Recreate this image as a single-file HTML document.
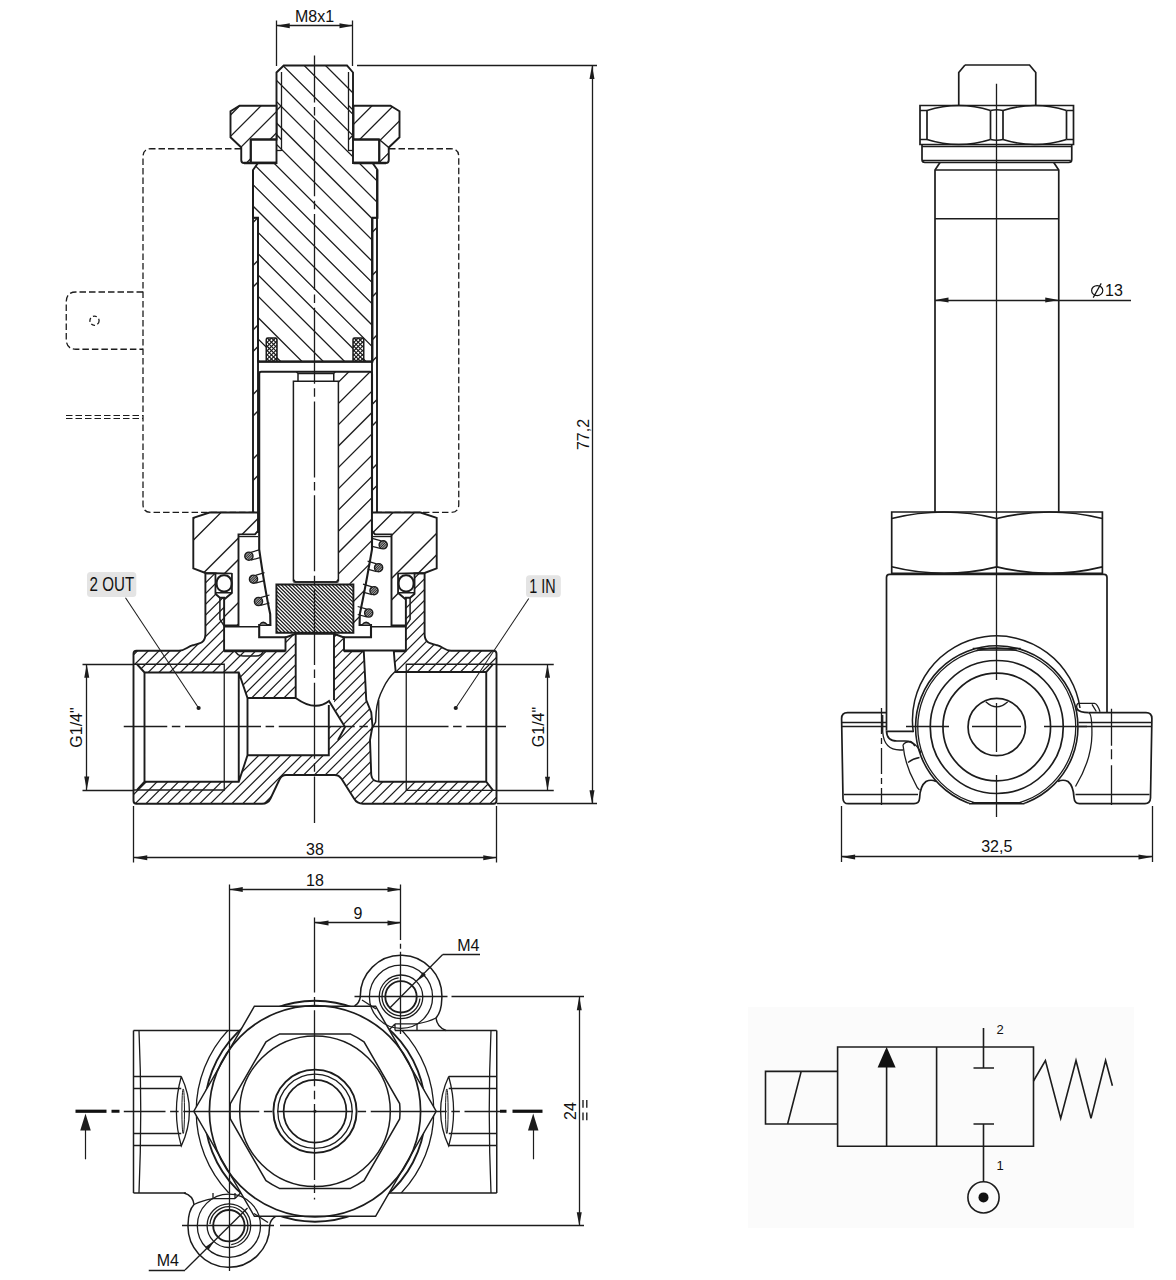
<!DOCTYPE html>
<html><head><meta charset="utf-8"><title>Valve drawing</title>
<style>
html,body{margin:0;padding:0;background:#fff;}
body{width:1176px;height:1280px;overflow:hidden;font-family:"Liberation Sans",sans-serif;}
svg{display:block;font-family:"Liberation Sans",sans-serif;}
</style></head><body>
<svg width="1176" height="1280" viewBox="0 0 1176 1280">
<defs>
<clipPath id="c1"><path d="M283.75,65.5 L347,65.5 L353,72.5 L353,163 L372.5,163 L377.5,170 L377.5,217.8 L372.5,217.8 L372.5,361.5 L258,361.5 L258,217.8 L253,217.8 L253,170 L258,163 L276.5,163 L276.5,72.5 Z" clip-rule="nonzero"/></clipPath>
<clipPath id="c2"><path d="M266.25,338 h10.75 v23 h-10.75 Z" clip-rule="nonzero"/></clipPath>
<clipPath id="c3"><path d="M266.25,338 h10.75 v23 h-10.75 Z" clip-rule="nonzero"/></clipPath>
<clipPath id="c4"><path d="M353.0,338 h10.75 v23 h-10.75 Z" clip-rule="nonzero"/></clipPath>
<clipPath id="c5"><path d="M353.0,338 h10.75 v23 h-10.75 Z" clip-rule="nonzero"/></clipPath>
<clipPath id="c6"><path d="M230.5,111.25 L239.5,105.75 L276.5,105.75 L276.5,139.5 L250.75,139.5 L250.75,163 L244,163 Q241.25,163 241.25,160 L241.25,147.5 L230.5,137.3 Z" clip-rule="nonzero"/></clipPath>
<clipPath id="c7"><path d="M399.5,111.25 L390.5,105.75 L353.5,105.75 L353.5,139.5 L379.25,139.5 L379.25,163 L386.0,163 Q388.75,163 388.75,160 L388.75,147.5 L399.5,137.3 Z" clip-rule="nonzero"/></clipPath>
<clipPath id="c8"><path d="M253,217.8 L258,217.8 L258,512.5 L253,512.5 Z" clip-rule="nonzero"/></clipPath>
<clipPath id="c9"><path d="M253,217.8 L258,217.8 L258,512.5 L253,512.5 Z" clip-rule="nonzero"/></clipPath>
<clipPath id="c10"><path d="M377.0,217.8 L372.0,217.8 L372.0,512.5 L377.0,512.5 Z" clip-rule="nonzero"/></clipPath>
<clipPath id="c11"><path d="M377.0,217.8 L372.0,217.8 L372.0,512.5 L377.0,512.5 Z" clip-rule="nonzero"/></clipPath>
<clipPath id="c12"><path d="M333.75,371.8 L370,371.8 Q372,371.8 372,373.8 L372,549.4 Q365,590 359.8,614 L359.6,625 L353.5,625 L353.5,584.5 L338.4,581.5 L338.4,381.25 L333.75,381.25 Z" clip-rule="nonzero"/></clipPath>
<clipPath id="c13"><path d="M276.4,584.5 L353.4,584.5 L353.4,632.7 L276.4,632.7 Z" clip-rule="nonzero"/></clipPath>
<clipPath id="c14"><path d="M244.8,556.2 a4.1,4.1 0 1 0 8.2,0 a4.1,4.1 0 1 0 -8.2,0 Z" clip-rule="nonzero"/></clipPath>
<clipPath id="c15"><path d="M249.4,579.2 a4.1,4.1 0 1 0 8.2,0 a4.1,4.1 0 1 0 -8.2,0 Z" clip-rule="nonzero"/></clipPath>
<clipPath id="c16"><path d="M254.4,601.5 a4.1,4.1 0 1 0 8.2,0 a4.1,4.1 0 1 0 -8.2,0 Z" clip-rule="nonzero"/></clipPath>
<clipPath id="c17"><path d="M379.09999999999997,544.8 a4.1,4.1 0 1 0 8.2,0 a4.1,4.1 0 1 0 -8.2,0 Z" clip-rule="nonzero"/></clipPath>
<clipPath id="c18"><path d="M374.5,567.7 a4.1,4.1 0 1 0 8.2,0 a4.1,4.1 0 1 0 -8.2,0 Z" clip-rule="nonzero"/></clipPath>
<clipPath id="c19"><path d="M369.9,590.7 a4.1,4.1 0 1 0 8.2,0 a4.1,4.1 0 1 0 -8.2,0 Z" clip-rule="nonzero"/></clipPath>
<clipPath id="c20"><path d="M364.59999999999997,613 a4.1,4.1 0 1 0 8.2,0 a4.1,4.1 0 1 0 -8.2,0 Z" clip-rule="nonzero"/></clipPath>
<clipPath id="c21"><path d="M193.3,517.9 L209.5,512.5 L258,512.5 L258,531 L255,534.4 L238.5,534.4 L238.5,625.5 L224.1,625.5 L224.1,599.5 L231.8,593 L231.8,574 L205.4,573 L193.3,568.4 Z" clip-rule="nonzero"/></clipPath>
<clipPath id="c22"><path d="M193.3,517.9 L209.5,512.5 L258,512.5 L258,531 L255,534.4 L238.5,534.4 L238.5,625.5 L224.1,625.5 L224.1,599.5 L231.8,593 L231.8,574 L205.4,573 L193.3,568.4 Z" clip-rule="nonzero"/></clipPath>
<clipPath id="c23"><path d="M436.7,517.9 L420.5,512.5 L372.0,512.5 L372.0,531 L375.0,534.4 L391.5,534.4 L391.5,625.5 L405.9,625.5 L405.9,599.5 L398.2,593 L398.2,574 L424.6,573 L436.7,568.4 Z" clip-rule="nonzero"/></clipPath>
<clipPath id="c24"><path d="M436.7,517.9 L420.5,512.5 L372.0,512.5 L372.0,531 L375.0,534.4 L391.5,534.4 L391.5,625.5 L405.9,625.5 L405.9,599.5 L398.2,593 L398.2,574 L424.6,573 L436.7,568.4 Z" clip-rule="nonzero"/></clipPath>
<clipPath id="c25"><path d="M133.5,653.75 Q133.5,650.75 136.5,650.75 L179,650.75 C185,650.5 187,647 193,645.2 C200,643.6 205.4,643 205.4,634 L205.4,573.4 L215.6,573.4 L215.6,594 L219.9,597.8 L224.1,597.8 L224.1,650.5 L285.5,650.5 L285.5,637.5 L295.7,633.8 L334,633.8 L344,637.5 L344,650.5 L405.9,650.5 L405.9,597.8 L410.1,597.8 L414.4,594 L414.4,573.4 L424.6,573.4 L424.6,634 C424.6,643 430,643.6 437,645.2 C443,647 445,650.5 451,650.75 L493.5,650.75 Q496.5,650.75 496.5,653.75 L496.5,800.75 Q496.5,803.75 493.5,803.75 L363,803.75 Q357,803.75 354,798.5 L341.5,778.8 Q339,775 334.5,775 L286,775 Q281.5,775 279.5,779.5 L270.5,798.5 Q268,803.75 262,803.75 L136.5,803.75 Q133.5,803.75 133.5,800.75 Z" clip-rule="nonzero"/></clipPath>
</defs>
<rect x="0" y="0" width="1176" height="1280" fill="#fff"/>
<path d="M241,148.75 L151.0,148.75 Q143.0,148.75 143.0,156.75 L143.0,504.4 Q143.0,512.4 151.0,512.4 L267,512.4" fill="none" stroke="#1c1c1c" stroke-width="1.3" stroke-dasharray="6.5 3"/>
<path d="M389,148.75 L450.75,148.75 Q458.75,148.75 458.75,156.75 L458.75,504.4 Q458.75,512.4 450.75,512.4 L362,512.4" fill="none" stroke="#1c1c1c" stroke-width="1.3" stroke-dasharray="6.5 3"/>
<path d="M143,292 L76,292 Q66.25,292 66.25,302 L66.25,339.25 Q66.25,349.25 76,349.25 L143,349.25" fill="none" stroke="#1c1c1c" stroke-width="1.3" stroke-dasharray="6.5 3"/>
<circle cx="94.5" cy="320.75" r="4.6" fill="none" stroke="#1c1c1c" stroke-width="1.3" stroke-dasharray="4 2.5"/>
<line x1="66" y1="415.5" x2="143" y2="415.5" stroke="#1c1c1c" stroke-width="1.2" stroke-dasharray="6.5 3"/>
<line x1="66" y1="418.5" x2="143" y2="418.5" stroke="#1c1c1c" stroke-width="1.2" stroke-dasharray="6.5 3"/>
<path d="M-63.40,60L241.60,365M-42.10,60L262.90,365M-20.80,60L284.20,365M0.50,60L305.50,365M21.80,60L326.80,365M43.10,60L348.10,365M64.40,60L369.40,365M85.70,60L390.70,365M107.00,60L412.00,365M128.30,60L433.30,365M149.60,60L454.60,365M170.90,60L475.90,365M192.20,60L497.20,365M213.50,60L518.50,365M234.80,60L539.80,365M256.10,60L561.10,365M277.40,60L582.40,365M298.70,60L603.70,365M320.00,60L625.00,365M341.30,60L646.30,365M362.60,60L667.60,365M383.90,60L688.90,365" clip-path="url(#c1)" fill="none" stroke="#1c1c1c" stroke-width="1.3"/>
<rect x="266.25" y="338" width="10.75" height="23" fill="#fff"/>
<path d="M263.05,338L240.05,361M267.25,338L244.25,361M271.45,338L248.45,361M275.65,338L252.65,361M279.85,338L256.85,361M284.05,338L261.05,361M288.25,338L265.25,361M292.45,338L269.45,361M296.65,338L273.65,361M300.85,338L277.85,361" clip-path="url(#c2)" fill="none" stroke="#1c1c1c" stroke-width="1.15"/>
<path d="M242.05,338L265.05,361M246.25,338L269.25,361M250.45,338L273.45,361M254.65,338L277.65,361M258.85,338L281.85,361M263.05,338L286.05,361M267.25,338L290.25,361M271.45,338L294.45,361M275.65,338L298.65,361M279.85,338L302.85,361" clip-path="url(#c3)" fill="none" stroke="#1c1c1c" stroke-width="1.15"/>
<path d="M266.25,361 L266.25,339.5 Q266.25,338 267.75,338 L275.5,338 Q277.0,338 277.0,339.5 L277.0,361" fill="none" stroke="#1c1c1c" stroke-width="1.5" />
<rect x="353.0" y="338" width="10.75" height="23" fill="#fff"/>
<path d="M349.80,338L326.80,361M354.00,338L331.00,361M358.20,338L335.20,361M362.40,338L339.40,361M366.60,338L343.60,361M370.80,338L347.80,361M375.00,338L352.00,361M379.20,338L356.20,361M383.40,338L360.40,361M387.60,338L364.60,361" clip-path="url(#c4)" fill="none" stroke="#1c1c1c" stroke-width="1.15"/>
<path d="M328.80,338L351.80,361M333.00,338L356.00,361M337.20,338L360.20,361M341.40,338L364.40,361M345.60,338L368.60,361M349.80,338L372.80,361M354.00,338L377.00,361M358.20,338L381.20,361M362.40,338L385.40,361M366.60,338L389.60,361" clip-path="url(#c5)" fill="none" stroke="#1c1c1c" stroke-width="1.15"/>
<path d="M353.0,361 L353.0,339.5 Q353.0,338 354.5,338 L362.25,338 Q363.75,338 363.75,339.5 L363.75,361" fill="none" stroke="#1c1c1c" stroke-width="1.5" />
<path d="M283.75,65.5 L347,65.5 L353,72.5 L353,163 L372.5,163 L377.5,170 L377.5,217.8 L372.5,217.8 L372.5,361.5 L258,361.5 L258,217.8 L253,217.8 L253,170 L258,163 L276.5,163 L276.5,72.5 Z" fill="none" stroke="#1c1c1c" stroke-width="1.9" />
<line x1="258" y1="361.8" x2="372.5" y2="361.8" stroke="#1c1c1c" stroke-width="2.0" />
<line x1="281.5" y1="72" x2="281.5" y2="151" stroke="#1c1c1c" stroke-width="1.3" />
<line x1="348.5" y1="72" x2="348.5" y2="151" stroke="#1c1c1c" stroke-width="1.3" />
<line x1="276.5" y1="150.5" x2="281.25" y2="150.5" stroke="#1c1c1c" stroke-width="1.3" />
<line x1="348.75" y1="150.5" x2="353" y2="150.5" stroke="#1c1c1c" stroke-width="1.3" />
<path d="M230.5,111.25 L239.5,105.75 L276.5,105.75 L276.5,139.5 L250.75,139.5 L250.75,163 L244,163 Q241.25,163 241.25,160 L241.25,147.5 L230.5,137.3 Z" fill="#fff"/>
<path d="M224.20,100L156.20,168M245.50,100L177.50,168M266.80,100L198.80,168M288.10,100L220.10,168M309.40,100L241.40,168M330.70,100L262.70,168M352.00,100L284.00,168M373.30,100L305.30,168M394.60,100L326.60,168M415.90,100L347.90,168M437.20,100L369.20,168M458.50,100L390.50,168M479.80,100L411.80,168" clip-path="url(#c6)" fill="none" stroke="#1c1c1c" stroke-width="1.3"/>
<path d="M230.5,111.25 L239.5,105.75 L276.5,105.75 L276.5,139.5 L250.75,139.5 L250.75,163 L244,163 Q241.25,163 241.25,160 L241.25,147.5 L230.5,137.3 Z" fill="none" stroke="#1c1c1c" stroke-width="1.9" />
<path d="M250.75,139.5 L276.5,139.5 M250.75,139.5 L250.75,163 M250.75,162.6 L276.5,162.6" fill="none" stroke="#1c1c1c" stroke-width="1.9" />
<path d="M276.5,110.5 L281.25,105.75 M276.5,134.5 L281.25,139.5" fill="none" stroke="#1c1c1c" stroke-width="1.3" />
<path d="M399.5,111.25 L390.5,105.75 L353.5,105.75 L353.5,139.5 L379.25,139.5 L379.25,163 L386.0,163 Q388.75,163 388.75,160 L388.75,147.5 L399.5,137.3 Z" fill="#fff"/>
<path d="M207.40,100L139.40,168M228.70,100L160.70,168M250.00,100L182.00,168M271.30,100L203.30,168M292.60,100L224.60,168M313.90,100L245.90,168M335.20,100L267.20,168M356.50,100L288.50,168M377.80,100L309.80,168M399.10,100L331.10,168M420.40,100L352.40,168M441.70,100L373.70,168M463.00,100L395.00,168M484.30,100L416.30,168" clip-path="url(#c7)" fill="none" stroke="#1c1c1c" stroke-width="1.3"/>
<path d="M399.5,111.25 L390.5,105.75 L353.5,105.75 L353.5,139.5 L379.25,139.5 L379.25,163 L386.0,163 Q388.75,163 388.75,160 L388.75,147.5 L399.5,137.3 Z" fill="none" stroke="#1c1c1c" stroke-width="1.9" />
<path d="M379.25,139.5 L353.5,139.5 M379.25,139.5 L379.25,163 M379.25,162.6 L353.5,162.6" fill="none" stroke="#1c1c1c" stroke-width="1.9" />
<path d="M353.5,110.5 L348.75,105.75 M353.5,134.5 L348.75,139.5" fill="none" stroke="#1c1c1c" stroke-width="1.3" />
<line x1="244" y1="163" x2="276.5" y2="163" stroke="#1c1c1c" stroke-width="2.4" />
<line x1="353.5" y1="163" x2="386" y2="163" stroke="#1c1c1c" stroke-width="2.4" />
<line x1="379.25" y1="139.5" x2="388.75" y2="147.5" stroke="#1c1c1c" stroke-width="1.5" />
<path d="M239.00,215L-81.00,535M303.50,215L-16.50,535M368.00,215L48.00,535M432.50,215L112.50,535M497.00,215L177.00,535M561.50,215L241.50,535M626.00,215L306.00,535M690.50,215L370.50,535M755.00,215L435.00,535" clip-path="url(#c8)" fill="none" stroke="#1c1c1c" stroke-width="1.3"/>
<path d="M196.00,215L-124.00,535M260.50,215L-59.50,535M325.00,215L5.00,535M389.50,215L69.50,535M454.00,215L134.00,535M518.50,215L198.50,535M583.00,215L263.00,535M647.50,215L327.50,535M712.00,215L392.00,535" clip-path="url(#c9)" fill="none" stroke="#1c1c1c" stroke-width="1.3"/>
<line x1="253" y1="170" x2="253" y2="512.5" stroke="#1c1c1c" stroke-width="1.9" />
<line x1="258" y1="217.8" x2="258" y2="533" stroke="#1c1c1c" stroke-width="1.9" />
<line x1="253" y1="217.8" x2="258" y2="217.8" stroke="#1c1c1c" stroke-width="1.5" />
<path d="M239.00,215L-81.00,535M303.50,215L-16.50,535M368.00,215L48.00,535M432.50,215L112.50,535M497.00,215L177.00,535M561.50,215L241.50,535M626.00,215L306.00,535M690.50,215L370.50,535M755.00,215L435.00,535" clip-path="url(#c10)" fill="none" stroke="#1c1c1c" stroke-width="1.3"/>
<path d="M196.00,215L-124.00,535M260.50,215L-59.50,535M325.00,215L5.00,535M389.50,215L69.50,535M454.00,215L134.00,535M518.50,215L198.50,535M583.00,215L263.00,535M647.50,215L327.50,535M712.00,215L392.00,535" clip-path="url(#c11)" fill="none" stroke="#1c1c1c" stroke-width="1.3"/>
<line x1="377.0" y1="170" x2="377.0" y2="512.5" stroke="#1c1c1c" stroke-width="1.9" />
<line x1="372.0" y1="217.8" x2="372.0" y2="533" stroke="#1c1c1c" stroke-width="1.9" />
<line x1="377.0" y1="217.8" x2="372.0" y2="217.8" stroke="#1c1c1c" stroke-width="1.5" />
<path d="M261.2,371.8 L370,371.8 Q372,371.8 372,373.8 L372,549.4 Q365,590 359.8,614 L359.6,625 L371,625 L371,637.3 L259.2,637.3 L259.2,625 L270.4,625 L270.2,614 Q265,590 259.2,549.4 L259.2,373.8 Q259.2,371.8 261.2,371.8 Z" fill="#fff"/>
<path d="M329.30,370L59.30,640M350.60,370L80.60,640M371.90,370L101.90,640M393.20,370L123.20,640M414.50,370L144.50,640M435.80,370L165.80,640M457.10,370L187.10,640M478.40,370L208.40,640M499.70,370L229.70,640M521.00,370L251.00,640M542.30,370L272.30,640M563.60,370L293.60,640M584.90,370L314.90,640M606.20,370L336.20,640M627.50,370L357.50,640M648.80,370L378.80,640" clip-path="url(#c12)" fill="none" stroke="#1c1c1c" stroke-width="1.3"/>
<path d="M293.4,581.5 L293.4,381.25 L338.4,381.25 L338.4,581.5" fill="none" stroke="#1c1c1c" stroke-width="1.5" />
<path d="M298,381.25 L298,373.5 L296.5,371.8 M333.75,381.25 L333.75,373.5 L335.2,371.8 M298,373.5 L333.75,373.5" fill="none" stroke="#1c1c1c" stroke-width="1.5" />
<path d="M293.4,579.5 L295.5,582 L336.3,582 L338.4,579.5" fill="none" stroke="#1c1c1c" stroke-width="1.5" />
<line x1="293.4" y1="582" x2="338.4" y2="582" stroke="#1c1c1c" stroke-width="1.5" />
<path d="M261.2,371.8 L370,371.8 Q372,371.8 372,373.8 L372,549.4 Q365,590 359.8,614 L359.6,625 L371,625 L371,637.3 L259.2,637.3 L259.2,625 L270.4,625 L270.2,614 Q265,590 259.2,549.4 L259.2,373.8 Q259.2,371.8 261.2,371.8 Z" fill="none" stroke="#1c1c1c" stroke-width="2.1" />
<path d="M276.4,584.5 L353.4,584.5 L353.4,632.7 L276.4,632.7 Z" fill="#fff"/>
<path d="M225.88,584L274.88,633M229.51,584L278.51,633M233.14,584L282.14,633M236.77,584L285.77,633M240.40,584L289.40,633M244.03,584L293.03,633M247.66,584L296.66,633M251.29,584L300.29,633M254.92,584L303.92,633M258.55,584L307.55,633M262.18,584L311.18,633M265.81,584L314.81,633M269.44,584L318.44,633M273.07,584L322.07,633M276.70,584L325.70,633M280.33,584L329.33,633M283.96,584L332.96,633M287.59,584L336.59,633M291.22,584L340.22,633M294.85,584L343.85,633M298.48,584L347.48,633M302.11,584L351.11,633M305.74,584L354.74,633M309.37,584L358.37,633M313.00,584L362.00,633M316.63,584L365.63,633M320.26,584L369.26,633M323.89,584L372.89,633M327.52,584L376.52,633M331.15,584L380.15,633M334.78,584L383.78,633M338.41,584L387.41,633M342.04,584L391.04,633M345.67,584L394.67,633M349.30,584L398.30,633M352.93,584L401.93,633M356.56,584L405.56,633" clip-path="url(#c13)" fill="none" stroke="#1c1c1c" stroke-width="1.25"/>
<path d="M276.4,584.5 L353.4,584.5 L353.4,632.7 L276.4,632.7 Z" fill="none" stroke="#1c1c1c" stroke-width="1.9" />
<path d="M250.9,552.3000000000001 L259.9,549.7 M250.9,560.1 L259.9,557.7" fill="none" stroke="#1c1c1c" stroke-width="1.2" />
<circle cx="248.9" cy="556.2" r="4.1" fill="#9a9a9a" stroke="none"/>
<path d="M241.90,551.2L231.90,561.2M244.30,551.2L234.30,561.2M246.70,551.2L236.70,561.2M249.10,551.2L239.10,561.2M251.50,551.2L241.50,561.2M253.90,551.2L243.90,561.2M256.30,551.2L246.30,561.2M258.70,551.2L248.70,561.2M261.10,551.2L251.10,561.2M263.50,551.2L253.50,561.2M265.90,551.2L255.90,561.2" clip-path="url(#c14)" fill="none" stroke="#1c1c1c" stroke-width="0.9"/>
<circle cx="248.9" cy="556.2" r="4.1" fill="none" stroke="#1c1c1c" stroke-width="1.4"/>
<path d="M255.5,575.3000000000001 L264.5,572.7 M255.5,583.1 L264.5,580.7" fill="none" stroke="#1c1c1c" stroke-width="1.2" />
<circle cx="253.5" cy="579.2" r="4.1" fill="#9a9a9a" stroke="none"/>
<path d="M246.50,574.2L236.50,584.2M248.90,574.2L238.90,584.2M251.30,574.2L241.30,584.2M253.70,574.2L243.70,584.2M256.10,574.2L246.10,584.2M258.50,574.2L248.50,584.2M260.90,574.2L250.90,584.2M263.30,574.2L253.30,584.2M265.70,574.2L255.70,584.2M268.10,574.2L258.10,584.2M270.50,574.2L260.50,584.2" clip-path="url(#c15)" fill="none" stroke="#1c1c1c" stroke-width="0.9"/>
<circle cx="253.5" cy="579.2" r="4.1" fill="none" stroke="#1c1c1c" stroke-width="1.4"/>
<path d="M260.5,597.6 L269.5,595.0 M260.5,605.4 L269.5,603.0" fill="none" stroke="#1c1c1c" stroke-width="1.2" />
<circle cx="258.5" cy="601.5" r="4.1" fill="#9a9a9a" stroke="none"/>
<path d="M251.50,596.5L241.50,606.5M253.90,596.5L243.90,606.5M256.30,596.5L246.30,606.5M258.70,596.5L248.70,606.5M261.10,596.5L251.10,606.5M263.50,596.5L253.50,606.5M265.90,596.5L255.90,606.5M268.30,596.5L258.30,606.5M270.70,596.5L260.70,606.5M273.10,596.5L263.10,606.5M275.50,596.5L265.50,606.5" clip-path="url(#c16)" fill="none" stroke="#1c1c1c" stroke-width="0.9"/>
<circle cx="258.5" cy="601.5" r="4.1" fill="none" stroke="#1c1c1c" stroke-width="1.4"/>
<path d="M381.2,540.9 L372.2,538.3 M381.2,548.6999999999999 L372.2,546.3" fill="none" stroke="#1c1c1c" stroke-width="1.2" />
<circle cx="383.2" cy="544.8" r="4.1" fill="#9a9a9a" stroke="none"/>
<path d="M376.20,539.8L366.20,549.8M378.60,539.8L368.60,549.8M381.00,539.8L371.00,549.8M383.40,539.8L373.40,549.8M385.80,539.8L375.80,549.8M388.20,539.8L378.20,549.8M390.60,539.8L380.60,549.8M393.00,539.8L383.00,549.8M395.40,539.8L385.40,549.8M397.80,539.8L387.80,549.8M400.20,539.8L390.20,549.8" clip-path="url(#c17)" fill="none" stroke="#1c1c1c" stroke-width="0.9"/>
<circle cx="383.2" cy="544.8" r="4.1" fill="none" stroke="#1c1c1c" stroke-width="1.4"/>
<path d="M376.6,563.8000000000001 L367.6,561.2 M376.6,571.6 L367.6,569.2" fill="none" stroke="#1c1c1c" stroke-width="1.2" />
<circle cx="378.6" cy="567.7" r="4.1" fill="#9a9a9a" stroke="none"/>
<path d="M371.60,562.7L361.60,572.7M374.00,562.7L364.00,572.7M376.40,562.7L366.40,572.7M378.80,562.7L368.80,572.7M381.20,562.7L371.20,572.7M383.60,562.7L373.60,572.7M386.00,562.7L376.00,572.7M388.40,562.7L378.40,572.7M390.80,562.7L380.80,572.7M393.20,562.7L383.20,572.7M395.60,562.7L385.60,572.7" clip-path="url(#c18)" fill="none" stroke="#1c1c1c" stroke-width="0.9"/>
<circle cx="378.6" cy="567.7" r="4.1" fill="none" stroke="#1c1c1c" stroke-width="1.4"/>
<path d="M372,586.8000000000001 L363,584.2 M372,594.6 L363,592.2" fill="none" stroke="#1c1c1c" stroke-width="1.2" />
<circle cx="374" cy="590.7" r="4.1" fill="#9a9a9a" stroke="none"/>
<path d="M367.00,585.7L357.00,595.7M369.40,585.7L359.40,595.7M371.80,585.7L361.80,595.7M374.20,585.7L364.20,595.7M376.60,585.7L366.60,595.7M379.00,585.7L369.00,595.7M381.40,585.7L371.40,595.7M383.80,585.7L373.80,595.7M386.20,585.7L376.20,595.7M388.60,585.7L378.60,595.7M391.00,585.7L381.00,595.7" clip-path="url(#c19)" fill="none" stroke="#1c1c1c" stroke-width="0.9"/>
<circle cx="374" cy="590.7" r="4.1" fill="none" stroke="#1c1c1c" stroke-width="1.4"/>
<path d="M366.7,609.1 L357.7,606.5 M366.7,616.9 L357.7,614.5" fill="none" stroke="#1c1c1c" stroke-width="1.2" />
<circle cx="368.7" cy="613" r="4.1" fill="#9a9a9a" stroke="none"/>
<path d="M361.70,608L351.70,618M364.10,608L354.10,618M366.50,608L356.50,618M368.90,608L358.90,618M371.30,608L361.30,618M373.70,608L363.70,618M376.10,608L366.10,618M378.50,608L368.50,618M380.90,608L370.90,618M383.30,608L373.30,618M385.70,608L375.70,618" clip-path="url(#c20)" fill="none" stroke="#1c1c1c" stroke-width="0.9"/>
<circle cx="368.7" cy="613" r="4.1" fill="none" stroke="#1c1c1c" stroke-width="1.4"/>
<path d="M259.5,625 Q263,619.5 267.5,625" fill="#777" stroke="#1c1c1c" stroke-width="1.3" />
<path d="M362,625 Q366,619.5 370.5,625" fill="#777" stroke="#1c1c1c" stroke-width="1.3" />
<path d="M193.3,517.9 L209.5,512.5 L258,512.5 L258,531 L255,534.4 L238.5,534.4 L238.5,625.5 L224.1,625.5 L224.1,599.5 L231.8,593 L231.8,574 L205.4,573 L193.3,568.4 Z" fill="#fff"/>
<path d="M137.50,510L17.50,630M202.00,510L82.00,630M266.50,510L146.50,630M331.00,510L211.00,630M395.50,510L275.50,630M460.00,510L340.00,630M524.50,510L404.50,630M589.00,510L469.00,630" clip-path="url(#c21)" fill="none" stroke="#1c1c1c" stroke-width="1.3"/>
<path d="M159.00,510L39.00,630M223.50,510L103.50,630M288.00,510L168.00,630M352.50,510L232.50,630M417.00,510L297.00,630M481.50,510L361.50,630M546.00,510L426.00,630M610.50,510L490.50,630" clip-path="url(#c22)" fill="none" stroke="#1c1c1c" stroke-width="1.3"/>
<path d="M193.3,517.9 L209.5,512.5 L258,512.5 L258,531 L255,534.4 L238.5,534.4 L238.5,625.5 L224.1,625.5 L224.1,599.5 L231.8,593 L231.8,574 L205.4,573 L193.3,568.4 Z" fill="none" stroke="#1c1c1c" stroke-width="1.9" />
<path d="M238.5,536.6 L258,536.6" fill="none" stroke="#1c1c1c" stroke-width="1.2" />
<path d="M436.7,517.9 L420.5,512.5 L372.0,512.5 L372.0,531 L375.0,534.4 L391.5,534.4 L391.5,625.5 L405.9,625.5 L405.9,599.5 L398.2,593 L398.2,574 L424.6,573 L436.7,568.4 Z" fill="#fff"/>
<path d="M137.50,510L17.50,630M202.00,510L82.00,630M266.50,510L146.50,630M331.00,510L211.00,630M395.50,510L275.50,630M460.00,510L340.00,630M524.50,510L404.50,630M589.00,510L469.00,630" clip-path="url(#c23)" fill="none" stroke="#1c1c1c" stroke-width="1.3"/>
<path d="M159.00,510L39.00,630M223.50,510L103.50,630M288.00,510L168.00,630M352.50,510L232.50,630M417.00,510L297.00,630M481.50,510L361.50,630M546.00,510L426.00,630M610.50,510L490.50,630" clip-path="url(#c24)" fill="none" stroke="#1c1c1c" stroke-width="1.3"/>
<path d="M436.7,517.9 L420.5,512.5 L372.0,512.5 L372.0,531 L375.0,534.4 L391.5,534.4 L391.5,625.5 L405.9,625.5 L405.9,599.5 L398.2,593 L398.2,574 L424.6,573 L436.7,568.4 Z" fill="none" stroke="#1c1c1c" stroke-width="1.9" />
<path d="M391.5,536.6 L372.0,536.6" fill="none" stroke="#1c1c1c" stroke-width="1.2" />
<path d="M133.5,653.75 Q133.5,650.75 136.5,650.75 L179,650.75 C185,650.5 187,647 193,645.2 C200,643.6 205.4,643 205.4,634 L205.4,573.4 L215.6,573.4 L215.6,594 L219.9,597.8 L224.1,597.8 L224.1,650.5 L285.5,650.5 L285.5,637.5 L295.7,633.8 L334,633.8 L344,637.5 L344,650.5 L405.9,650.5 L405.9,597.8 L410.1,597.8 L414.4,594 L414.4,573.4 L424.6,573.4 L424.6,634 C424.6,643 430,643.6 437,645.2 C443,647 445,650.5 451,650.75 L493.5,650.75 Q496.5,650.75 496.5,653.75 L496.5,800.75 Q496.5,803.75 493.5,803.75 L363,803.75 Q357,803.75 354,798.5 L341.5,778.8 Q339,775 334.5,775 L286,775 Q281.5,775 279.5,779.5 L270.5,798.5 Q268,803.75 262,803.75 L136.5,803.75 Q133.5,803.75 133.5,800.75 Z" fill="#fff"/>
<path d="M121.60,570L-114.40,806M132.35,570L-103.65,806M143.10,570L-92.90,806M153.85,570L-82.15,806M164.60,570L-71.40,806M175.35,570L-60.65,806M186.10,570L-49.90,806M196.85,570L-39.15,806M207.60,570L-28.40,806M218.35,570L-17.65,806M229.10,570L-6.90,806M239.85,570L3.85,806M250.60,570L14.60,806M261.35,570L25.35,806M272.10,570L36.10,806M282.85,570L46.85,806M293.60,570L57.60,806M304.35,570L68.35,806M315.10,570L79.10,806M325.85,570L89.85,806M336.60,570L100.60,806M347.35,570L111.35,806M358.10,570L122.10,806M368.85,570L132.85,806M379.60,570L143.60,806M390.35,570L154.35,806M401.10,570L165.10,806M411.85,570L175.85,806M422.60,570L186.60,806M433.35,570L197.35,806M444.10,570L208.10,806M454.85,570L218.85,806M465.60,570L229.60,806M476.35,570L240.35,806M487.10,570L251.10,806M497.85,570L261.85,806M508.60,570L272.60,806M519.35,570L283.35,806M530.10,570L294.10,806M540.85,570L304.85,806M551.60,570L315.60,806M562.35,570L326.35,806M573.10,570L337.10,806M583.85,570L347.85,806M594.60,570L358.60,806M605.35,570L369.35,806M616.10,570L380.10,806M626.85,570L390.85,806M637.60,570L401.60,806M648.35,570L412.35,806M659.10,570L423.10,806M669.85,570L433.85,806M680.60,570L444.60,806M691.35,570L455.35,806M702.10,570L466.10,806M712.85,570L476.85,806M723.60,570L487.60,806M734.35,570L498.35,806M745.10,570L509.10,806" clip-path="url(#c25)" fill="none" stroke="#1c1c1c" stroke-width="1.2"/>
<path d="M133.5,664.25 L137,664.25 L144.5,672.5 L238.75,672.5 L247.5,698 L295.7,698 L295.7,633.8 L334,633.8 L334,707 L345,727 L328.8,727 L328.8,755.3 L247.5,755.3 L238.75,781.75 L144.5,781.75 L137,790 L133.5,790 Z" fill="#fff"/>
<path d="M496.5,664.25 L493,664.25 L486.25,672 L395.75,672 L394.5,660 L393.75,650.5 L363.75,650.5 L366.25,700 L371.25,712.5 L372.5,726.25 L370,740 L371.25,775 Q372,781.75 380,781.75 L486.25,781.75 L493,790.3 L496.5,790.3 Z" fill="#fff"/>
<path d="M133.5,653.75 Q133.5,650.75 136.5,650.75 L179,650.75 C185,650.5 187,647 193,645.2 C200,643.6 205.4,643 205.4,634 L205.4,573.4 L215.6,573.4 L215.6,594 L219.9,597.8 L224.1,597.8 L224.1,650.5 L285.5,650.5 L285.5,637.5 L295.7,633.8 L334,633.8 L344,637.5 L344,650.5 L405.9,650.5 L405.9,597.8 L410.1,597.8 L414.4,594 L414.4,573.4 L424.6,573.4 L424.6,634 C424.6,643 430,643.6 437,645.2 C443,647 445,650.5 451,650.75 L493.5,650.75 Q496.5,650.75 496.5,653.75 L496.5,800.75 Q496.5,803.75 493.5,803.75 L363,803.75 Q357,803.75 354,798.5 L341.5,778.8 Q339,775 334.5,775 L286,775 Q281.5,775 279.5,779.5 L270.5,798.5 Q268,803.75 262,803.75 L136.5,803.75 Q133.5,803.75 133.5,800.75 Z" fill="none" stroke="#1c1c1c" stroke-width="1.9" />
<path d="M137,664.25 L144.5,672.5 L238.75,672.5 L247.5,698 L295.7,698 M137,790 L144.5,781.75 L238.75,781.75 L247.5,755.3 L328.8,755.3 L328.8,705 M144.5,672.5 L144.5,781.75 M238.75,672.5 L238.75,781.75 M247.5,698 L247.5,755.3" fill="none" stroke="#1c1c1c" stroke-width="1.9" />
<path d="M295.7,633.8 L295.7,698 Q315,712 329,701 L345,727 L338,740 M334,633.8 L334,700" fill="none" stroke="#1c1c1c" stroke-width="1.9" />
<path d="M133.5,664.25 L224.25,664.25 L224.25,790 L133.5,790" fill="none" stroke="#1c1c1c" stroke-width="1.3" />
<path d="M493,664.25 L486.25,672 L395.75,672 L394.5,660 L393.75,650.5 M493,790.3 L486.25,781.75 L380,781.75 Q372,781.75 371.25,775 L370,740 L372.5,726.25 L371.25,712.5 L366.25,700 L363.75,650.5 M486.25,672 L486.25,781.75" fill="none" stroke="#1c1c1c" stroke-width="1.9" />
<path d="M395.2,671.5 Q388,678 383.3,688 Q377,700 376.2,712 L375.6,722 L370.8,731" fill="none" stroke="#1c1c1c" stroke-width="1.5" />
<path d="M378.75,700 L378.75,781.75" fill="none" stroke="#1c1c1c" stroke-width="1.3" />
<path d="M496.5,664.25 L406.25,664.25 L406.25,790.3 L496.5,790.3" fill="none" stroke="#1c1c1c" stroke-width="1.3" />
<path d="M235,650.5 Q237,656 243,656 L256,656 Q262,656 263.75,650.5" fill="none" stroke="#1c1c1c" stroke-width="1.5" />
<path d="M224.1,626.7 L259.2,626.7 M371,626.7 L405.9,626.7" fill="none" stroke="#1c1c1c" stroke-width="1.5" />
<path d="M224.1,651.6 L285.5,651.6 M344,651.6 L363.75,651.6 M393.75,651.6 L405.9,651.6" fill="none" stroke="#1c1c1c" stroke-width="1.4" />
<path d="M219.9,597.8 L219.9,619.4 L224.1,625.9" fill="none" stroke="#1c1c1c" stroke-width="1.5" />
<path d="M410.1,597.8 L410.1,619.4 L405.9,625.9" fill="none" stroke="#1c1c1c" stroke-width="1.5" />
<rect x="215.8" y="574" width="16.4" height="18.8" fill="#fff"/>
<rect x="216.6" y="575.3" width="15.0" height="16.2" rx="7.0" ry="7.2" fill="#fff" stroke="#1c1c1c" stroke-width="2.1"/>
<path d="M215.6,573.4 L215.6,594 M215.6,592.8 L231.8,592.8 M231.8,574 L231.8,593 M206.3,573.6 L231.8,573.6" fill="none" stroke="#1c1c1c" stroke-width="1.5" />
<rect x="397.8" y="574" width="16.4" height="18.8" fill="#fff"/>
<rect x="398.6" y="575.3" width="15.0" height="16.2" rx="7.0" ry="7.2" fill="#fff" stroke="#1c1c1c" stroke-width="2.1"/>
<path d="M414.4,573.4 L414.4,594 M414.4,592.8 L398.2,592.8 M398.2,574 L398.2,593 M423.7,573.6 L398.2,573.6" fill="none" stroke="#1c1c1c" stroke-width="1.5" />
<line x1="314.5" y1="55.5" x2="314.5" y2="823" stroke="#1c1c1c" stroke-width="1.3" stroke-dasharray="76 4.6 8.5 4.65" stroke-dashoffset="29.1"/>
<line x1="123.75" y1="726.5" x2="506" y2="726.5" stroke="#1c1c1c" stroke-width="1.3" stroke-dasharray="76 4.6 8.5 4.65" stroke-dashoffset="32.5"/>
<line x1="276.5" y1="20.5" x2="276.5" y2="66" stroke="#1c1c1c" stroke-width="1.3" />
<line x1="352.5" y1="20.5" x2="352.5" y2="66" stroke="#1c1c1c" stroke-width="1.3" />
<line x1="276.25" y1="25.5" x2="353" y2="25.5" stroke="#1c1c1c" stroke-width="1.3" />
<path d="M276.25,25.75L289.75,23.25L289.75,28.25Z" fill="#1c1c1c" stroke="none"/>
<path d="M353.00,25.75L339.50,28.25L339.50,23.25Z" fill="#1c1c1c" stroke="none"/>
<text x="314.5" y="22" font-size="16" text-anchor="middle" fill="#111" >M8x1</text>
<line x1="357" y1="65.5" x2="597" y2="65.5" stroke="#1c1c1c" stroke-width="1.3" />
<line x1="497" y1="803.5" x2="597" y2="803.5" stroke="#1c1c1c" stroke-width="1.3" />
<line x1="592.5" y1="65.5" x2="592.5" y2="803.75" stroke="#1c1c1c" stroke-width="1.3" />
<path d="M592.00,65.50L594.50,79.00L589.50,79.00Z" fill="#1c1c1c" stroke="none"/>
<path d="M592.00,803.75L589.50,790.25L594.50,790.25Z" fill="#1c1c1c" stroke="none"/>
<text x="588.6" y="434.5" font-size="16" text-anchor="middle" fill="#111" transform="rotate(-90 588.6 434.5)" >77,2</text>
<line x1="133.5" y1="806" x2="133.5" y2="862.5" stroke="#1c1c1c" stroke-width="1.3" />
<line x1="496.5" y1="806" x2="496.5" y2="862.5" stroke="#1c1c1c" stroke-width="1.3" />
<line x1="133.75" y1="857.5" x2="496.75" y2="857.5" stroke="#1c1c1c" stroke-width="1.3" />
<path d="M133.75,857.80L147.25,855.30L147.25,860.30Z" fill="#1c1c1c" stroke="none"/>
<path d="M496.75,857.80L483.25,860.30L483.25,855.30Z" fill="#1c1c1c" stroke="none"/>
<text x="315" y="854.8" font-size="16" text-anchor="middle" fill="#111" >38</text>
<line x1="82.5" y1="664.5" x2="133.5" y2="664.5" stroke="#1c1c1c" stroke-width="1.3" />
<line x1="82.5" y1="790.5" x2="133.5" y2="790.5" stroke="#1c1c1c" stroke-width="1.3" />
<line x1="86.5" y1="664.25" x2="86.5" y2="790" stroke="#1c1c1c" stroke-width="1.3" />
<path d="M86.75,664.25L89.25,677.75L84.25,677.75Z" fill="#1c1c1c" stroke="none"/>
<path d="M86.75,790.00L84.25,776.50L89.25,776.50Z" fill="#1c1c1c" stroke="none"/>
<text x="82.3" y="727.5" font-size="16" text-anchor="middle" fill="#111" transform="rotate(-90 82.3 727.5)" >G1/4"</text>
<line x1="497" y1="664.5" x2="553.75" y2="664.5" stroke="#1c1c1c" stroke-width="1.3" />
<line x1="497" y1="790.5" x2="553.75" y2="790.5" stroke="#1c1c1c" stroke-width="1.3" />
<line x1="547.5" y1="664.25" x2="547.5" y2="790.3" stroke="#1c1c1c" stroke-width="1.3" />
<path d="M547.50,664.25L550.00,677.75L545.00,677.75Z" fill="#1c1c1c" stroke="none"/>
<path d="M547.50,790.30L545.00,776.80L550.00,776.80Z" fill="#1c1c1c" stroke="none"/>
<text x="543.6" y="727" font-size="16" text-anchor="middle" fill="#111" transform="rotate(-90 543.6 727)" >G1/4"</text>
<rect x="87" y="572" width="49.3" height="25" rx="3.5" fill="#e4e4e4"/>
<text x="111.9" y="590.8" font-size="19.6" text-anchor="middle" fill="#111" textLength="44.6" lengthAdjust="spacingAndGlyphs">2 OUT</text>
<line x1="125.5" y1="597.8" x2="198.6" y2="708" stroke="#1c1c1c" stroke-width="1.05" />
<circle cx="198.6" cy="708" r="2.1" fill="#1c1c1c"/>
<rect x="526" y="575.2" width="34.8" height="22" rx="3.5" fill="#e4e4e4"/>
<text x="542.5" y="593.2" font-size="19.6" text-anchor="middle" fill="#111" textLength="26.4" lengthAdjust="spacingAndGlyphs">1 IN</text>
<line x1="528.75" y1="598.5" x2="455.75" y2="708" stroke="#1c1c1c" stroke-width="1.05" />
<circle cx="455.75" cy="708" r="2.1" fill="#1c1c1c"/>
<path d="M965,65 L1029.5,65 L1035.75,72.5 L1035.75,105.5 M965,65 L958.75,72.5 L958.75,105.5" fill="none" stroke="#1c1c1c" stroke-width="1.7" />
<path d="M920,105.5 L1073.5,105.5 L1073.5,144.5 L920,144.5 Z" fill="none" stroke="#1c1c1c" stroke-width="1.7" />
<path d="M927,110.5 Q958.75,100.5 990.5,110.5 M927,139.5 Q958.75,149.5 990.5,139.5" fill="none" stroke="#1c1c1c" stroke-width="1.7" />
<line x1="927" y1="110.5" x2="927" y2="139.5" stroke="#1c1c1c" stroke-width="1.7" />
<line x1="990.5" y1="110.5" x2="990.5" y2="139.5" stroke="#1c1c1c" stroke-width="1.7" />
<path d="M1003,110.5 Q1034.75,100.5 1066.5,110.5 M1003,139.5 Q1034.75,149.5 1066.5,139.5" fill="none" stroke="#1c1c1c" stroke-width="1.7" />
<line x1="1003" y1="110.5" x2="1003" y2="139.5" stroke="#1c1c1c" stroke-width="1.7" />
<line x1="1066.5" y1="110.5" x2="1066.5" y2="139.5" stroke="#1c1c1c" stroke-width="1.7" />
<path d="M920,110.5 L927,110.5 M920,139.5 L927,139.5 M1066.5,110.5 L1073.5,110.5 M1066.5,139.5 L1073.5,139.5" fill="none" stroke="#1c1c1c" stroke-width="1.3" />
<path d="M990.5,110.5 Q996.75,109 1003,110.5 M990.5,139.5 Q996.75,141 1003,139.5" fill="none" stroke="#1c1c1c" stroke-width="1.3" />
<path d="M922,144.5 L922,159.5 Q922,162.5 925,162.5 L1068.75,162.5 Q1071.75,162.5 1071.75,159.5 L1071.75,144.5" fill="none" stroke="#1c1c1c" stroke-width="1.7" />
<line x1="922" y1="146.5" x2="1071.75" y2="146.5" stroke="#1c1c1c" stroke-width="1.3" />
<line x1="923" y1="160.5" x2="1070.75" y2="160.5" stroke="#1c1c1c" stroke-width="1.3" />
<path d="M940,162.5 L935,170 L935,512 M1053.75,162.5 L1058.75,170 L1058.75,512" fill="none" stroke="#1c1c1c" stroke-width="1.7" />
<line x1="935" y1="218.75" x2="1058.75" y2="218.75" stroke="#1c1c1c" stroke-width="1.7" />
<line x1="935" y1="170" x2="1058.75" y2="170" stroke="#1c1c1c" stroke-width="1.7" />
<line x1="935" y1="300.5" x2="1131" y2="300.5" stroke="#1c1c1c" stroke-width="1.3" />
<path d="M935.00,300.00L948.50,297.50L948.50,302.50Z" fill="#1c1c1c" stroke="none"/>
<path d="M1058.75,300.00L1045.25,302.50L1045.25,297.50Z" fill="#1c1c1c" stroke="none"/>
<ellipse cx="1097.2" cy="290.6" rx="5.6" ry="5.0" fill="none" stroke="#111" stroke-width="1.2"/>
<line x1="1093.2" y1="297.6" x2="1101.2" y2="283.4" stroke="#111" stroke-width="1.2" />
<text x="1105" y="295.7" font-size="16" text-anchor="start" fill="#111" >13</text>
<path d="M891.7,512 L1102.4,512 L1102.4,573.4 L891.7,573.4 Z" fill="none" stroke="#1c1c1c" stroke-width="1.7" />
<path d="M891.7,518.5 Q944,505.5 996.75,518.5 Q1049.5,505.5 1102.4,518.5" fill="none" stroke="#1c1c1c" stroke-width="1.7" />
<path d="M891.7,566.8 Q944,579.8 996.75,566.8 Q1049.5,579.8 1102.4,566.8" fill="none" stroke="#1c1c1c" stroke-width="1.7" />
<line x1="996.75" y1="518.5" x2="996.75" y2="566.8" stroke="#1c1c1c" stroke-width="1.7" />
<path d="M886.5,730.5 L886.5,577.4 Q886.5,574.4 889.5,574.4 L1104,574.4 Q1107,574.4 1107,577.4 L1107,712.7" fill="none" stroke="#1c1c1c" stroke-width="1.7" />
<clipPath id="cflat"><rect x="880" y="600" width="240" height="203.7"/></clipPath>
<circle cx="996.75" cy="727.0" r="81.2" fill="#fff" stroke="#1c1c1c" stroke-width="1.6" clip-path="url(#cflat)"/>
<circle cx="996.75" cy="727.0" r="79" fill="none" stroke="#1c1c1c" stroke-width="1.3" clip-path="url(#cflat)"/>
<line x1="969" y1="803.7" x2="1024.5" y2="803.7" stroke="#1c1c1c" stroke-width="1.6" />
<line x1="972" y1="802.5" x2="1021.5" y2="802.5" stroke="#1c1c1c" stroke-width="1.0" />
<circle cx="996.75" cy="727.0" r="66.5" fill="none" stroke="#1c1c1c" stroke-width="1.7" />
<circle cx="996.75" cy="727.0" r="53.8" fill="none" stroke="#1c1c1c" stroke-width="1.7" />
<circle cx="996.75" cy="727.0" r="28.7" fill="none" stroke="#1c1c1c" stroke-width="1.7" />
<path d="M913.3,732.2 A84.2,84.2 0 1 1 1080.0,708.0" fill="none" stroke="#1c1c1c" stroke-width="1.5" />
<path d="M972.75,648.3 L1020.75,648.3 M976.75,650 L1016.75,650" fill="none" stroke="#1c1c1c" stroke-width="1.3" />
<path d="M985.75,701.8 Q996.75,712 1007.75,701.8" fill="none" stroke="#1c1c1c" stroke-width="1.3" />
<line x1="906" y1="726.5" x2="949" y2="726.5" stroke="#1c1c1c" stroke-width="1.3" />
<line x1="972" y1="726.5" x2="1021" y2="726.5" stroke="#1c1c1c" stroke-width="1.3" />
<line x1="1044" y1="726.5" x2="1087" y2="726.5" stroke="#1c1c1c" stroke-width="1.3" />
<line x1="996.5" y1="83.75" x2="996.5" y2="680" stroke="#1c1c1c" stroke-width="1.3" />
<line x1="996.5" y1="703" x2="996.5" y2="752" stroke="#1c1c1c" stroke-width="1.3" />
<line x1="996.5" y1="775" x2="996.5" y2="817" stroke="#1c1c1c" stroke-width="1.3" />
<path d="M886.5,712.7 L847.5,712.7 Q841.6,712.7 841.6,718.7 L843,798.7 Q843.3,803.7 848.3,803.7 L914,803.7 Q919.3,803.7 919.6,798 Q920,786 926,781.5 Q931,779 936,781.5" fill="none" stroke="#1c1c1c" stroke-width="1.7" />
<line x1="841.6" y1="722.5" x2="886.5" y2="722.5" stroke="#1c1c1c" stroke-width="1.3" />
<line x1="841.6" y1="726.5" x2="886.5" y2="726.5" stroke="#1c1c1c" stroke-width="1.3" />
<line x1="844" y1="794.5" x2="918" y2="794.5" stroke="#1c1c1c" stroke-width="1.3" />
<line x1="881.5" y1="708" x2="881.5" y2="805" stroke="#1c1c1c" stroke-width="1.3" stroke-dasharray="26 4 6 4"/>
<path d="M1088.75,712.6 L1146,712.6 Q1151.9,712.6 1151.9,718.6 L1150.5,798 Q1150.2,803.6 1145,803.6 L1079.5,803.6 Q1074.5,803.6 1074,797.5 Q1073.5,786 1068,781.5 Q1063,779 1058,781.5" fill="none" stroke="#1c1c1c" stroke-width="1.7" />
<path d="M1076.5,708.8 Q1080,712.6 1088.75,712.6" fill="none" stroke="#1c1c1c" stroke-width="1.7" />
<path d="M1088.75,712.6 Q1092.2,714 1091.9,735 Q1091.5,760 1075.5,786.5" fill="none" stroke="#1c1c1c" stroke-width="1.3" />
<line x1="1078.5" y1="722.5" x2="1151.6" y2="722.5" stroke="#1c1c1c" stroke-width="1.3" />
<line x1="1079" y1="726.5" x2="1151.6" y2="726.5" stroke="#1c1c1c" stroke-width="1.3" />
<line x1="1075.5" y1="794.5" x2="1149.5" y2="794.5" stroke="#1c1c1c" stroke-width="1.3" />
<line x1="1111.5" y1="708.75" x2="1111.5" y2="805" stroke="#1c1c1c" stroke-width="1.3" stroke-dasharray="37 3.5 10 6 60"/>
<path d="M1077.8,703.3 L1094.5,703.3 Q1097.5,703.6 1100,711.8 M1077.8,703.3 Q1075.3,706.5 1078,710 M1092,704.3 L1096.3,711.5" fill="none" stroke="#1c1c1c" stroke-width="1.3" />
<path d="M886.5,730.5 Q886.5,741 897,741 L905,741 Q912,741 915,746 M886.5,731.4 L913.5,731.4" fill="none" stroke="#1c1c1c" stroke-width="1.7" />
<path d="M882.7,715 L882.7,732 Q884,750 900,750 L903,750" fill="none" stroke="#1c1c1c" stroke-width="1.3" />
<path d="M903,745 Q905,741.5 911,741.5 M903,745 Q905,765 915,783 Q917,788 919.5,790 M911,741.5 Q919,747 921,753 M908,762.5 Q913,758.5 919.5,757.5" fill="none" stroke="#1c1c1c" stroke-width="1.3" />
<line x1="841.5" y1="806" x2="841.5" y2="862" stroke="#1c1c1c" stroke-width="1.3" />
<line x1="1152.5" y1="806" x2="1152.5" y2="862" stroke="#1c1c1c" stroke-width="1.3" />
<line x1="841.6" y1="856.5" x2="1152" y2="856.5" stroke="#1c1c1c" stroke-width="1.3" />
<path d="M841.60,857.00L855.10,854.50L855.10,859.50Z" fill="#1c1c1c" stroke="none"/>
<path d="M1152.00,857.00L1138.50,859.50L1138.50,854.50Z" fill="#1c1c1c" stroke="none"/>
<text x="996.75" y="852.3" font-size="16" text-anchor="middle" fill="#111" >32,5</text>
<path d="M133.5,1030.5 L133.5,1193 M496.75,1030.5 L496.75,1193" fill="none" stroke="#1c1c1c" stroke-width="1.5" />
<path d="M133.5,1030.5 L244,1030.5 M133.5,1193 L186,1193 M418,1030.5 L496.75,1030.5 M386,1193 L496.75,1193" fill="none" stroke="#1c1c1c" stroke-width="1.5" />
<path d="M139,1030.5 Q142.5,1111 139,1193" fill="none" stroke="#1c1c1c" stroke-width="1.3" />
<path d="M491,1030.5 Q487.5,1111 491,1193" fill="none" stroke="#1c1c1c" stroke-width="1.3" />
<line x1="133.5" y1="1076.5" x2="181.25" y2="1076.5" stroke="#1c1c1c" stroke-width="1.3" />
<line x1="133.5" y1="1088.5" x2="181.25" y2="1088.5" stroke="#1c1c1c" stroke-width="1.3" />
<line x1="133.5" y1="1133.5" x2="181.25" y2="1133.5" stroke="#1c1c1c" stroke-width="1.3" />
<line x1="133.5" y1="1145.5" x2="181.25" y2="1145.5" stroke="#1c1c1c" stroke-width="1.3" />
<path d="M181.3,1076.5 Q171.5,1111.25 181.3,1146 Q197.5,1111.25 181.3,1076.5" fill="none" stroke="#1c1c1c" stroke-width="1.3" />
<ellipse cx="183.2" cy="1111.25" rx="1.3" ry="22.3" fill="none" stroke="#1c1c1c" stroke-width="1.0"/>
<line x1="496.5" y1="1076.5" x2="448.75" y2="1076.5" stroke="#1c1c1c" stroke-width="1.3" />
<line x1="496.5" y1="1088.5" x2="448.75" y2="1088.5" stroke="#1c1c1c" stroke-width="1.3" />
<line x1="496.5" y1="1133.5" x2="448.75" y2="1133.5" stroke="#1c1c1c" stroke-width="1.3" />
<line x1="496.5" y1="1145.5" x2="448.75" y2="1145.5" stroke="#1c1c1c" stroke-width="1.3" />
<path d="M448.7,1076.5 Q458.5,1111.25 448.7,1146 Q432.5,1111.25 448.7,1076.5" fill="none" stroke="#1c1c1c" stroke-width="1.3" />
<ellipse cx="446.8" cy="1111.25" rx="1.3" ry="22.3" fill="none" stroke="#1c1c1c" stroke-width="1.0"/>
<clipPath id="cbody"><rect x="130" y="1030.5" width="370" height="162.5"/></clipPath>
<circle cx="315.0" cy="1111.25" r="118.8" fill="none" stroke="#1c1c1c" stroke-width="1.3" clip-path="url(#cbody)"/>
<circle cx="315.0" cy="1111.25" r="110.5" fill="none" stroke="#1c1c1c" stroke-width="1.9" />
<path d="M193.80,1111.25 L254.40,1006.25 L375.60,1006.25 L436.20,1111.25 L375.60,1216.25 L254.40,1216.25 Z" fill="#fff" stroke="none"/>
<path d="M193.80,1111.25 L254.40,1006.25 L375.60,1006.25 L436.20,1111.25 L375.60,1216.25 L254.40,1216.25 Z" fill="none" stroke="#1c1c1c" stroke-width="1.5" />
<circle cx="315.0" cy="1111.25" r="105.6" fill="none" stroke="#1c1c1c" stroke-width="1.7" />
<path d="M230.35,1103.54 L266.00,1041.80 A85.0,85.0 0 0 1 279.35,1034.09 L350.65,1034.09 A85.0,85.0 0 0 1 364.00,1041.80 L399.65,1103.54 A85.0,85.0 0 0 1 399.65,1118.96 L364.00,1180.70 A85.0,85.0 0 0 1 350.65,1188.41 L279.35,1188.41 A85.0,85.0 0 0 1 266.00,1180.70 L230.35,1118.96 A85.0,85.0 0 0 1 230.35,1103.54 Z" fill="none" stroke="#1c1c1c" stroke-width="1.5" />
<circle cx="315.0" cy="1111.25" r="75.3" fill="none" stroke="#1c1c1c" stroke-width="1.5" />
<circle cx="315.0" cy="1111.25" r="41.6" fill="none" stroke="#1c1c1c" stroke-width="1.9" />
<circle cx="315.0" cy="1111.25" r="37.2" fill="none" stroke="#1c1c1c" stroke-width="1.3" />
<circle cx="315.0" cy="1111.25" r="31.4" fill="none" stroke="#1c1c1c" stroke-width="1.7" />
<circle cx="315.0" cy="1111.25" r="1.6" fill="#1c1c1c"/>
<path d="M360.3,996.8 A40.8,40.8 0 1 1 441.8,998.8 Q441.5,1012 436,1018 Q437,1027 446,1030.5" fill="none" stroke="#1c1c1c" stroke-width="1.5" />
<path d="M360.3,996.8 Q359.5,1003 354.5,1005.8" fill="none" stroke="#1c1c1c" stroke-width="1.5" />
<circle cx="401.0" cy="996.8" r="31.6" fill="none" stroke="#1c1c1c" stroke-width="1.3" />
<circle cx="401.0" cy="996.8" r="21.8" fill="none" stroke="#1c1c1c" stroke-width="1.3" />
<path d="M398.68,977.94 A19,19 0 1 0 419.93,998.46" fill="none" stroke="#1c1c1c" stroke-width="1.3" />
<circle cx="401.0" cy="996.8" r="15.7" fill="none" stroke="#1c1c1c" stroke-width="1.9" />
<path d="M395,1023.9 L417,1023.9 M395,1023.9 L395,1030.5 M417,1023.9 L417,1030.5 M395,1030.5 L418,1030.5 M417,1023.9 Q428,1022 436,1018 M395,1023.9 L389.5,1029.5" fill="none" stroke="#1c1c1c" stroke-width="1.3" />
<path d="M362,1000 L376,1009" fill="none" stroke="#1c1c1c" stroke-width="1.3" />
<path d="M269.6,1225.7 A40.8,40.8 0 1 1 188.1,1223.7 Q188.4,1210.5 194,1204.5 Q193,1195.5 184,1193" fill="none" stroke="#1c1c1c" stroke-width="1.5" />
<path d="M269.6,1225.7 Q270.4,1219.5 275.4,1216.7" fill="none" stroke="#1c1c1c" stroke-width="1.5" />
<circle cx="228.9" cy="1225.7" r="31.6" fill="none" stroke="#1c1c1c" stroke-width="1.3" />
<circle cx="228.9" cy="1225.7" r="21.8" fill="none" stroke="#1c1c1c" stroke-width="1.3" />
<path d="M231.22,1244.56 A19,19 0 1 0 209.97,1224.04" fill="none" stroke="#1c1c1c" stroke-width="1.3" />
<circle cx="228.9" cy="1225.7" r="15.7" fill="none" stroke="#1c1c1c" stroke-width="1.9" />
<path d="M235,1198.6 L213,1198.6 M235,1198.6 L235,1193 M213,1198.6 L213,1193 M213,1198.6 Q202,1200.5 194,1204.5 M235,1198.6 L240.5,1193" fill="none" stroke="#1c1c1c" stroke-width="1.3" />
<path d="M268,1222.5 L254,1213.5" fill="none" stroke="#1c1c1c" stroke-width="1.3" />
<line x1="314.5" y1="917.5" x2="314.5" y2="1199.5" stroke="#1c1c1c" stroke-width="1.3" stroke-dasharray="76 4.6 8.5 4.65" stroke-dashoffset="1"/>
<line x1="123.8" y1="1111.5" x2="500" y2="1111.5" stroke="#1c1c1c" stroke-width="1.3" stroke-dasharray="76 4.6 8.5 4.65" stroke-dashoffset="34.3"/>
<line x1="111.5" y1="1111.25" x2="119.5" y2="1111.25" stroke="#111" stroke-width="3.0" />
<line x1="75.5" y1="1111.25" x2="106.5" y2="1111.25" stroke="#111" stroke-width="3.2" />
<line x1="500" y1="1111.25" x2="506.5" y2="1111.25" stroke="#111" stroke-width="3.0" />
<line x1="512.5" y1="1111.25" x2="542.5" y2="1111.25" stroke="#111" stroke-width="3.2" />
<line x1="85.5" y1="1130" x2="85.5" y2="1159.3" stroke="#1c1c1c" stroke-width="1.2" />
<path d="M85.50,1113.50L90.75,1130.50L80.25,1130.50Z" fill="#1c1c1c" stroke="none"/>
<line x1="533.5" y1="1130" x2="533.5" y2="1159.3" stroke="#1c1c1c" stroke-width="1.2" />
<path d="M533.20,1113.50L538.45,1130.50L527.95,1130.50Z" fill="#1c1c1c" stroke="none"/>
<line x1="354.5" y1="996.5" x2="447.5" y2="996.5" stroke="#1c1c1c" stroke-width="1.3" />
<line x1="451.5" y1="996.5" x2="584" y2="996.5" stroke="#1c1c1c" stroke-width="1.3" />
<line x1="400.5" y1="884.5" x2="400.5" y2="1034" stroke="#1c1c1c" stroke-width="1.3" stroke-dasharray="55.5 3.8 5 3 90"/>
<line x1="182" y1="1225.5" x2="274" y2="1225.5" stroke="#1c1c1c" stroke-width="1.3" />
<line x1="280" y1="1225.5" x2="584" y2="1225.5" stroke="#1c1c1c" stroke-width="1.3" />
<line x1="229.5" y1="884.5" x2="229.5" y2="1271" stroke="#1c1c1c" stroke-width="1.3" />
<line x1="442.7" y1="954.5" x2="480" y2="954.5" stroke="#1c1c1c" stroke-width="1.3" />
<line x1="442.7" y1="954.5" x2="389.5" y2="1008.3" stroke="#1c1c1c" stroke-width="1.3" />
<path d="M417.00,981.00L422.94,972.09L425.91,975.06Z" fill="#1c1c1c" stroke="none"/>
<text x="468.3" y="950.5" font-size="16" text-anchor="middle" fill="#111" >M4</text>
<line x1="148.75" y1="1270.5" x2="185" y2="1270.5" stroke="#1c1c1c" stroke-width="1.3" />
<line x1="185" y1="1270" x2="247.5" y2="1208" stroke="#1c1c1c" stroke-width="1.3" />
<path d="M214.50,1240.80L208.56,1249.71L205.59,1246.74Z" fill="#1c1c1c" stroke="none"/>
<text x="167.8" y="1266" font-size="16" text-anchor="middle" fill="#111" >M4</text>
<line x1="229.25" y1="889.5" x2="401.0" y2="889.5" stroke="#1c1c1c" stroke-width="1.3" />
<path d="M229.25,889.50L242.75,887.00L242.75,892.00Z" fill="#1c1c1c" stroke="none"/>
<path d="M401.00,889.50L387.50,892.00L387.50,887.00Z" fill="#1c1c1c" stroke="none"/>
<text x="315" y="885.8" font-size="16" text-anchor="middle" fill="#111" >18</text>
<line x1="315.0" y1="922.5" x2="401.0" y2="922.5" stroke="#1c1c1c" stroke-width="1.3" />
<path d="M315.00,923.00L328.50,920.50L328.50,925.50Z" fill="#1c1c1c" stroke="none"/>
<path d="M401.00,923.00L387.50,925.50L387.50,920.50Z" fill="#1c1c1c" stroke="none"/>
<text x="358" y="919.3" font-size="16" text-anchor="middle" fill="#111" >9</text>
<line x1="579.5" y1="996.8" x2="579.5" y2="1225.7" stroke="#1c1c1c" stroke-width="1.3" />
<path d="M579.25,996.80L581.75,1010.30L576.75,1010.30Z" fill="#1c1c1c" stroke="none"/>
<path d="M579.25,1225.70L576.75,1212.20L581.75,1212.20Z" fill="#1c1c1c" stroke="none"/>
<text x="575.5" y="1111" font-size="16" text-anchor="middle" fill="#111" transform="rotate(-90 575.5 1111)" >24</text>
<path d="M583,1100 L583,1107.8 M586.8,1100 L586.8,1107.8 M583,1112.5 L583,1120.3 M586.8,1112.5 L586.8,1120.3" fill="none" stroke="#111" stroke-width="1.3" />
<rect x="748" y="1007" width="386" height="221" fill="#fbfbfb"/>
<path d="M837.6,1047 L1033.5,1047 L1033.5,1146.3 L837.6,1146.3 Z M936.6,1047 L936.6,1146.3" fill="none" stroke="#1c1c1c" stroke-width="1.6" />
<path d="M837.6,1071.4 L765.5,1071.4 L765.5,1124 L837.6,1124 M801.2,1071.4 L787.6,1124" fill="none" stroke="#1c1c1c" stroke-width="1.6" />
<line x1="886.6" y1="1146.3" x2="886.6" y2="1062" stroke="#1c1c1c" stroke-width="1.6" />
<path d="M886.6,1047 L895.6,1067.6 L877.6,1067.6 Z" fill="#111"/>
<path d="M983.5,1028 L983.5,1068 M973.5,1068 L994,1068 M973.5,1124 L994,1124 M983.5,1124 L983.5,1181.8" fill="none" stroke="#1c1c1c" stroke-width="1.6" />
<circle cx="983.5" cy="1197.4" r="15.6" fill="none" stroke="#1c1c1c" stroke-width="1.6" />
<circle cx="983.5" cy="1197.4" r="5" fill="#111"/>
<path d="M1033.5,1081 L1045.4,1060.5 L1060.7,1118.4 L1076,1060.5 L1091,1118.4 L1105.6,1060.5 L1112.4,1085.7" fill="none" stroke="#1c1c1c" stroke-width="1.6" />
<text x="1000.2" y="1034.2" font-size="13" text-anchor="middle" fill="#111" >2</text>
<text x="1000.2" y="1169.6" font-size="13" text-anchor="middle" fill="#111" >1</text>
</svg>
</body></html>
